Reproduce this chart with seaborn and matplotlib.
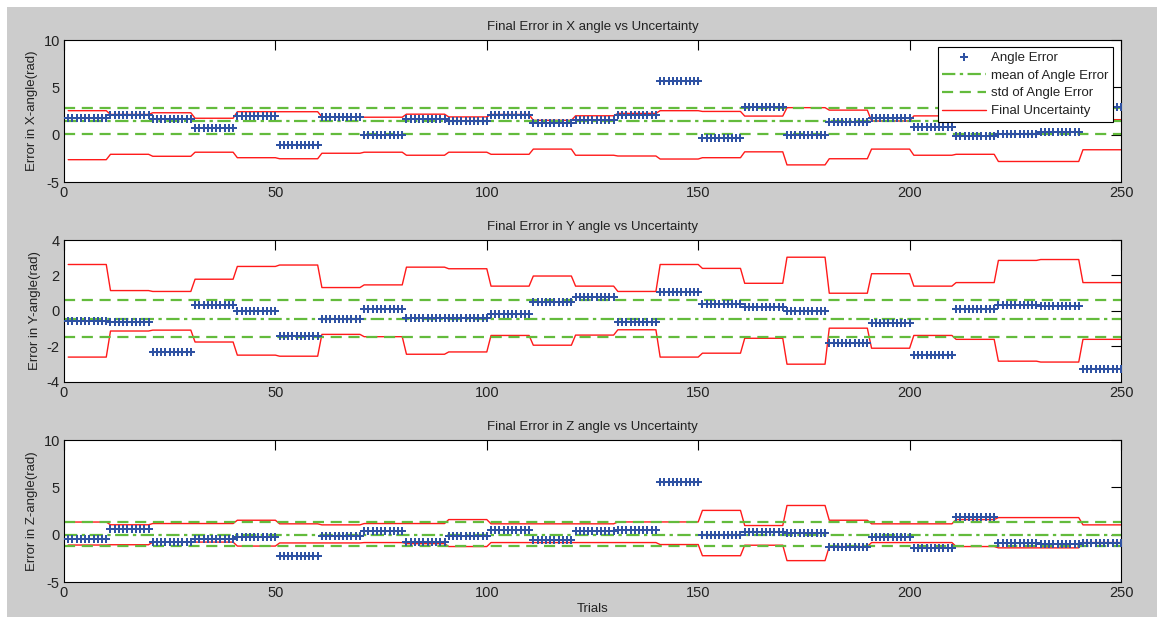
import numpy as np
import matplotlib
matplotlib.use("Agg")
import matplotlib.pyplot as plt
import seaborn as sns
from matplotlib.patches import Rectangle

# trials, 25 runs of 10 trials each
trials = np.arange(1, 251)
group_size = 10

# X angle: error per run, uncertainty bounds per run, mean / std lines
x_error = [1.81, 2.07, 1.63, 0.72, 1.96, -1.12, 1.85, 0.0, 1.63, 1.41, 2.07, 1.27, 1.52,
           2.07, 5.69, -0.36, 2.93, 0.0, 1.30, 1.81, 0.83, -0.14, 0.11, 0.29, 2.93]
x_upper = [2.54, 2.14, 2.32, 1.74, 2.43, 2.43, 1.88, 1.85, 2.17, 1.88, 2.14, 1.52, 2.0,
           2.25, 2.54, 2.46, 1.97, 2.86, 2.6, 1.45, 1.99, 2.07, 2.83, 2.83, 1.59]
x_lower = [-2.64, -2.07, -2.28, -1.85, -2.43, -2.54, -1.96, -1.85, -2.17, -1.85, -2.07, -1.52, -2.17,
           -2.25, -2.57, -2.43, -1.81, -3.19, -2.54, -1.52, -2.17, -2.07, -2.83, -2.83, -1.59]
x_mean = 1.49
x_std_band = [2.83, 0.04]

# Y angle
y_error = [-0.56, -0.65, -2.33, 0.33, -0.02, -1.43, -0.47, 0.13, -0.37, -0.37, -0.17, 0.48, 0.78,
           -0.65, 1.06, 0.37, 0.24, -0.02, -1.82, -0.69, -2.51, 0.13, 0.33, 0.26, -3.29]
y_upper = [2.62, 1.15, 1.10, 1.79, 2.51, 2.59, 1.32, 1.47, 2.47, 2.38, 1.40, 1.97, 1.40,
           1.10, 2.62, 2.40, 1.56, 3.03, 1.00, 2.10, 1.40, 1.60, 2.85, 2.90, 1.60]
y_lower = [-2.60, -1.13, -1.08, -1.75, -2.49, -2.55, -1.32, -1.45, -2.44, -2.31, -1.38, -1.93, -1.36,
           -1.06, -2.60, -2.38, -1.54, -3.00, -0.97, -2.10, -1.38, -1.60, -2.83, -2.88, -1.60]
y_mean = -0.45
y_std_band = [0.63, -1.45]

# Z angle
z_error = [-0.42, 0.56, -0.72, -0.42, -0.19, -2.22, -0.10, 0.35, -0.76, -0.10, 0.49, -0.59, 0.40,
           0.45, 5.52, 0.0, 0.24, 0.17, -1.25, -0.24, -1.39, 1.88, -0.83, -1.0, -0.83]
z_upper = [1.34, 1.05, 1.18, 1.18, 1.53, 1.15, 1.04, 1.18, 1.18, 1.60, 1.15, 1.15, 1.15,
           1.35, 1.35, 2.57, 0.97, 3.09, 1.53, 1.15, 1.15, 1.60, 1.81, 1.81, 1.04]
z_lower = [-1.09, -1.06, -0.78, -0.78, -1.20, -0.87, -0.87, -0.83, -0.94, -1.25, -0.83, -0.83, -0.83,
           -0.83, -1.04, -2.22, -1.11, -2.74, -1.25, -0.83, -0.83, -1.25, -1.39, -1.39, -0.83]
z_mean = -0.05
z_std_band = [1.32, -1.22]

panels = [
    ("Final Error in X angle vs Uncertainty", "Error in X-angle(rad)", x_error, x_upper, x_lower,
     x_mean, x_std_band, (-5, 10), [-5, 0, 5, 10]),
    ("Final Error in Y angle vs Uncertainty", "Error in Y-angle(rad)", y_error, y_upper, y_lower,
     y_mean, y_std_band, (-4, 4), [-4, -2, 0, 2, 4]),
    ("Final Error in Z angle vs Uncertainty", "Error in Z-angle(rad)", z_error, z_upper, z_lower,
     z_mean, z_std_band, (-5, 10), [-5, 0, 5, 10]),
]

sns.set_style("white")
plt.rcParams["font.family"] = ["Liberation Sans", "DejaVu Sans"]
plt.rcParams["font.size"] = 9
plt.rcParams["axes.unicode_minus"] = False

blue = "#2f52a3"
green = "#63bb3c"
red = "#ff1a1a"
text_col = "#222222"

fig = plt.figure(figsize=(11.57, 6.17), dpi=100)
fig.patch.set_facecolor("white")
# grey window background, white strip left and top
fig.patches.append(Rectangle((7 / 1157, 0), 1, 1 - 7 / 617, transform=fig.transFigure,
                             facecolor="#cccccc", edgecolor="none", zorder=-10))

bottoms = [0.705, 0.381, 0.0567]
for i, (title, ylabel, err, up, lo, mean, band, ylim, yticks) in enumerate(panels):
    ax = fig.add_axes([0.0553, bottoms[i], 0.9136, 0.230])
    ax.set_facecolor("white")

    err_pts = np.repeat(err, group_size)
    up_pts = np.repeat(up, group_size)
    lo_pts = np.repeat(lo, group_size)

    sns.scatterplot(x=trials, y=err_pts, ax=ax, marker="P", s=26, color=blue,
                    linewidth=0, label="Angle Error", legend=False, zorder=3)
    ax.axhline(mean, color=green, lw=1.6, ls=(0, (6, 2, 1.5, 2)), label="mean of Angle Error", zorder=2.5)
    ax.axhline(band[0], color=green, lw=1.6, ls=(0, (5, 3)), label="std of Angle Error", zorder=2.5)
    ax.axhline(band[1], color=green, lw=1.6, ls=(0, (5, 3)), label="_nolegend_", zorder=2.5)
    sns.lineplot(x=trials, y=up_pts, ax=ax, color=red, lw=1.0, label="Final Uncertainty", legend=False)
    sns.lineplot(x=trials, y=lo_pts, ax=ax, color=red, lw=1.0, label="_nolegend_", legend=False)

    ax.set_xlim(0, 250)
    ax.set_ylim(*ylim)
    ax.set_xticks([0, 50, 100, 150, 200, 250])
    ax.set_yticks(yticks)
    ax.tick_params(direction="in", length=7.5, width=0.8, top=True, right=True,
                   labelsize=10.5, colors="black", labelcolor=text_col, pad=3)
    for s in ax.spines.values():
        s.set_color("black")
        s.set_linewidth(0.8)
    ax.set_title(title, fontsize=9.5, pad=7, color=text_col)
    ax.set_ylabel(ylabel, fontsize=9.5, labelpad=4, color=text_col)
    ax.set_xlabel("")

    if i == 0:
        handles, labels = ax.get_legend_handles_labels()
        order = ["Angle Error", "mean of Angle Error", "std of Angle Error", "Final Uncertainty"]
        hmap = dict(zip(labels, handles))
        leg = ax.legend([hmap[k] for k in order], order, loc="upper right",
                        bbox_to_anchor=(0.9924, 0.951), borderaxespad=0, fancybox=False,
                        framealpha=1, edgecolor="black", fontsize=9.5, handlelength=3.3,
                        handletextpad=0.4, labelspacing=0.42, borderpad=0.35, scatterpoints=1)
        leg.get_frame().set_linewidth(0.8)
        leg.set_zorder(5)
        for t in leg.get_texts():
            t.set_color(text_col)
    if i == 2:
        ax.set_xlabel("Trials", fontsize=9.5, labelpad=2, color=text_col)

fig.savefig("out.png", dpi=100, facecolor=fig.get_facecolor())
